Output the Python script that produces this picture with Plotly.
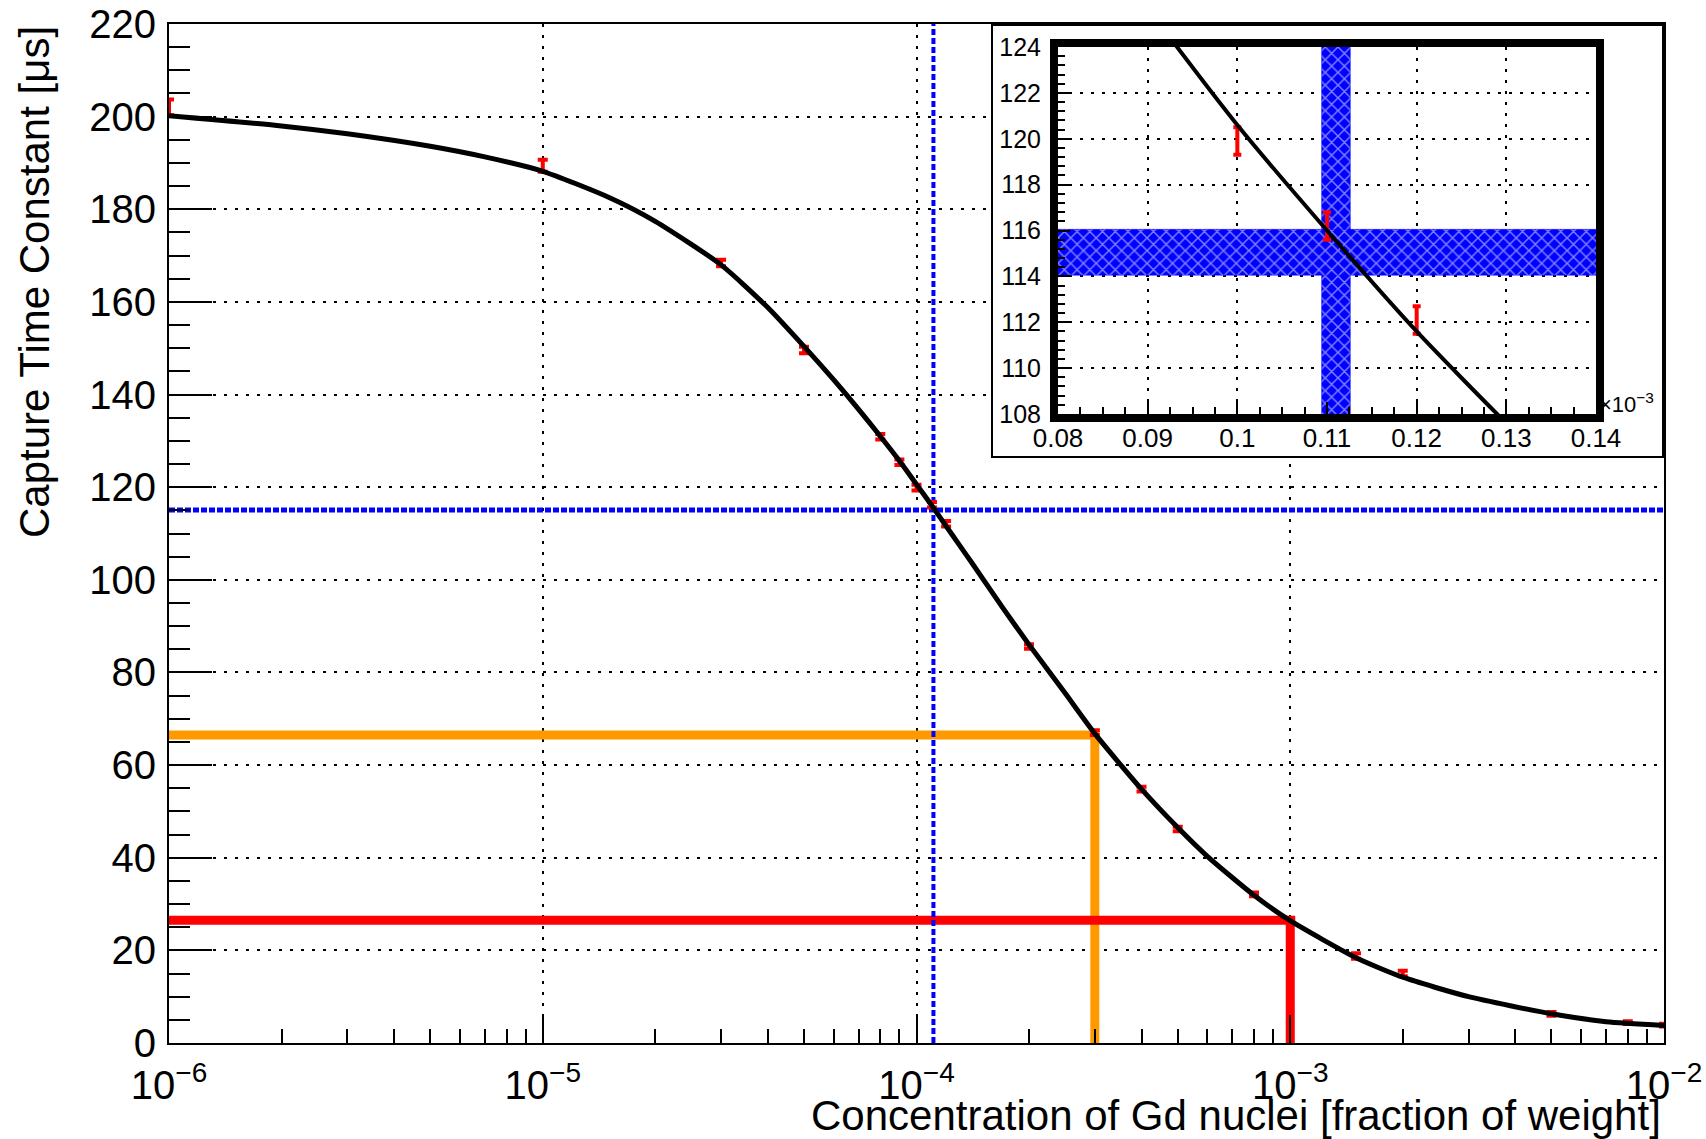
import plotly.graph_objects as go

# ---------------- data ----------------
conc = [1e-6, 1e-5, 3e-5, 5e-5, 8e-5, 9e-5, 1e-4, 1.1e-4, 1.2e-4, 2e-4, 3e-4, 4e-4,
        5e-4, 8e-4, 1e-3, 1.5e-3, 2e-3, 5e-3, 8e-3, 1e-2]
tau = [202.0, 189.4, 168.4, 149.6, 130.9, 125.4, 119.9, 116.2, 112.1, 85.6, 67.0, 54.8,
       46.2, 32.1, 26.6, 18.8, 15.0, 6.3, 4.4, 3.85]
tau_err = [1.7, 1.3, 0.7, 0.7, 0.6, 0.6, 0.6, 0.6, 0.6, 0.5, 0.5, 0.5,
           0.5, 0.4, 0.4, 0.6, 0.6, 0.4, 0.3, 0.3]

fit_conc = [1e-6, 2e-6, 3e-6, 5e-6, 7e-6, 1e-5, 1.5e-5, 2e-5, 3e-5, 4e-5, 5e-5, 6e-5,
            7e-5, 8e-5, 9e-5, 1e-4, 1.1e-4, 1.2e-4, 1.3e-4, 1.4e-4, 1.7e-4, 2e-4,
            2.5e-4, 3e-4, 4e-4, 5e-4, 6e-4, 8e-4, 1e-3, 1.5e-3, 2e-3, 3e-3, 5e-3,
            7e-3, 1e-2]
fit_tau = [200.2, 198.0, 196.3, 193.6, 191.3, 188.2, 182.6, 177.4, 168.0, 158.8, 150.4,
           143.2, 136.8, 131.0, 125.7, 120.6, 116.0, 111.6, 107.6, 103.9, 94.0, 86.0,
           75.5, 66.8, 54.8, 46.5, 40.3, 31.9, 26.4, 18.4, 14.2, 10.0, 6.3, 4.6, 3.8]

ref_conc, ref_conc_err = 1.11e-4, 0.016e-4     # blue band (vertical)
ref_tau, ref_tau_err = 115.05, 1.0              # blue band (horizontal)
orange_conc, orange_tau = 3e-4, 66.5
red_conc, red_tau = 1e-3, 26.5

x_lo, x_hi = 1e-6, 1e-2
y_lo, y_hi = 0, 220
x_ticks = [1e-6, 1e-5, 1e-4, 1e-3, 1e-2]
x_ticktext = ["10<sup>\u22126</sup>", "10<sup>\u22125</sup>", "10<sup>\u22124</sup>",
              "10<sup>\u22123</sup>", "10<sup>\u22122</sup>"]
y_ticks = list(range(0, 221, 20))

inset_scale = 1e3
inset_x_lo, inset_x_hi = 0.08, 0.14
inset_y_lo, inset_y_hi = 108, 124
inset_x_ticks = [0.08, 0.09, 0.10, 0.11, 0.12, 0.13, 0.14]
inset_x_text = ["0.08", "0.09", "0.1", "0.11", "0.12", "0.13", "0.14"]
inset_y_ticks = list(range(108, 125, 2))

# ---------------- geometry ----------------
W, H = 1706, 1139
L, R, T, B = 169, 1664, 24, 1043
pw, ph = R - L, B - T


def px(x):
    return (x - L) / pw


def py(y):
    return (B - y) / ph


FONT = "Liberation Sans, Arial, Helvetica, sans-serif"
fig = go.Figure()

# --- main plot ---
fig.add_trace(go.Scatter(x=[x_lo, orange_conc, orange_conc], y=[orange_tau, orange_tau, y_lo],
                         mode="lines", line=dict(color="#ff9900", width=9), xaxis="x", yaxis="y",
                         showlegend=False, hoverinfo="skip"))
fig.add_trace(go.Scatter(x=[x_lo, red_conc, red_conc], y=[red_tau, red_tau, y_lo],
                         mode="lines", line=dict(color="#ff0000", width=9), xaxis="x", yaxis="y",
                         showlegend=False, hoverinfo="skip"))
fig.add_trace(go.Scatter(x=[x_lo, x_hi], y=[ref_tau, ref_tau], mode="lines",
                         line=dict(color="#0000ff", width=5, dash="6px,2px"),
                         xaxis="x", yaxis="y", showlegend=False))
fig.add_trace(go.Scatter(x=[ref_conc, ref_conc], y=[y_lo, y_hi], mode="lines",
                         line=dict(color="#0000ff", width=4, dash="6px,3px"),
                         xaxis="x", yaxis="y", showlegend=False))
fig.add_trace(go.Scatter(x=conc, y=tau, mode="markers",
                         marker=dict(color="#ff0000", size=3),
                         error_y=dict(type="data", array=tau_err, color="#ff0000",
                                      thickness=4, width=5),
                         xaxis="x", yaxis="y", showlegend=False))
fig.add_trace(go.Scatter(x=fit_conc, y=fit_tau, mode="lines",
                         line=dict(color="black", width=5, shape="spline", smoothing=0.6),
                         xaxis="x", yaxis="y", showlegend=False))

# --- white inset background (x2/y2) ---
fig.add_trace(go.Scatter(x=[0, 1, 1, 0, 0], y=[0, 0, 1, 1, 0], mode="lines", fill="toself",
                         fillcolor="white", line=dict(width=0, color="white"),
                         xaxis="x2", yaxis="y2", showlegend=False, hoverinfo="skip"))

# --- inset (x3/y3) ---
ix = [c * inset_scale for c in conc]
ifx = [c * inset_scale for c in fit_conc]
band_pattern = dict(shape="x", fgcolor="white", bgcolor="#0000ff", size=9, solidity=0.3)
vx0 = (ref_conc - ref_conc_err) * inset_scale
vx1 = (ref_conc + ref_conc_err) * inset_scale
fig.add_trace(go.Scatter(x=[vx0, vx1, vx1, vx0, vx0],
                         y=[inset_y_lo - 1, inset_y_lo - 1, inset_y_hi + 1, inset_y_hi + 1, inset_y_lo - 1],
                         mode="lines", fill="toself", fillpattern=band_pattern,
                         fillcolor="#0000ff", line=dict(color="#0000ff", width=0.5),
                         xaxis="x3", yaxis="y3", showlegend=False))
hy0, hy1 = ref_tau - ref_tau_err, ref_tau + ref_tau_err
fig.add_trace(go.Scatter(x=[inset_x_lo - 0.01, inset_x_hi + 0.01, inset_x_hi + 0.01, inset_x_lo - 0.01, inset_x_lo - 0.01],
                         y=[hy0, hy0, hy1, hy1, hy0],
                         mode="lines", fill="toself", fillpattern=band_pattern,
                         fillcolor="#0000ff", line=dict(color="#0000ff", width=0.5),
                         xaxis="x3", yaxis="y3", showlegend=False))
fig.add_trace(go.Scatter(x=ix, y=tau, mode="markers",
                         marker=dict(color="#ff0000", size=3),
                         error_y=dict(type="data", array=tau_err, color="#ff0000",
                                      thickness=4, width=4),
                         xaxis="x3", yaxis="y3", showlegend=False, cliponaxis=True))
fig.add_trace(go.Scatter(x=ifx, y=fit_tau, mode="lines",
                         line=dict(color="black", width=4, shape="spline", smoothing=0.6),
                         xaxis="x3", yaxis="y3", showlegend=False))

grid_dash = "3px,8px"
fig.update_layout(
    width=W, height=H,
    margin=dict(l=L, r=W - R, t=T, b=H - B, pad=0, autoexpand=False),
    paper_bgcolor="white", plot_bgcolor="white",
    font=dict(family=FONT, color="black"),
    showlegend=False,
    xaxis=dict(type="log", range=[-6, -2], domain=[0, 1], anchor="y", automargin=False,
               showline=True, linecolor="black", linewidth=2, mirror=True,
               ticks="inside", ticklen=28, tickwidth=2, tickcolor="black",
               tickvals=x_ticks, ticktext=x_ticktext, tickfont=dict(size=40),
               ticklabelstandoff=6,
               showgrid=True, gridcolor="black", gridwidth=2, griddash=grid_dash,
               minor=dict(dtick="D1", ticks="inside", ticklen=14, tickwidth=2,
                          tickcolor="black", showgrid=False),
               zeroline=False),
    yaxis=dict(range=[y_lo, y_hi], domain=[0, 1], anchor="x", automargin=False,
               showline=True, linecolor="black", linewidth=2, mirror=True,
               ticks="inside", ticklen=43, tickwidth=2, tickcolor="black",
               tickvals=y_ticks, tickfont=dict(size=40), ticklabelstandoff=3,
               showgrid=True, gridcolor="black", gridwidth=2, griddash=grid_dash,
               minor=dict(dtick=5, tick0=0, ticks="inside", ticklen=21, tickwidth=2,
                          tickcolor="black", showgrid=False),
               zeroline=False),
    xaxis2=dict(range=[0, 1], domain=[px(992), px(1663)], anchor="y2", visible=False,
                automargin=False),
    yaxis2=dict(range=[0, 1], domain=[py(457), py(25)], anchor="x2", visible=False,
                automargin=False),
    xaxis3=dict(range=[inset_x_lo, inset_x_hi], domain=[px(1058), px(1596)], anchor="y3",
                automargin=False,
                showline=True, linecolor="black", linewidth=8, mirror=True,
                ticks="inside", ticklen=12, tickwidth=2, tickcolor="black",
                tickvals=inset_x_ticks, ticktext=inset_x_text, tickfont=dict(size=26),
                ticklabelstandoff=-6,
                showgrid=True, gridcolor="black", gridwidth=2, griddash=grid_dash,
                minor=dict(dtick=0.0025, tick0=0.08, ticks="inside", ticklen=7, tickwidth=2,
                           tickcolor="black", showgrid=False),
                zeroline=False),
    yaxis3=dict(range=[inset_y_lo, inset_y_hi], domain=[py(414), py(47)], anchor="x3",
                automargin=False,
                showline=True, linecolor="black", linewidth=8, mirror=True,
                ticks="inside", ticklen=12, tickwidth=2, tickcolor="black",
                tickvals=inset_y_ticks, tickfont=dict(size=25), ticklabelstandoff=4,
                showgrid=True, gridcolor="black", gridwidth=2, griddash=grid_dash,
                minor=dict(dtick=0.4, tick0=108, ticks="inside", ticklen=7, tickwidth=2,
                           tickcolor="black", showgrid=False),
                zeroline=False),
    shapes=[dict(type="rect", xref="paper", yref="paper",
                 x0=px(992), x1=px(1663), y0=py(457), y1=py(25),
                 line=dict(color="black", width=2), fillcolor="rgba(0,0,0,0)", layer="above")],
    annotations=[
        dict(text="Capture Time Constant [\u03bcs]", xref="paper", yref="paper",
             x=px(34), y=1.0, xanchor="center", yanchor="top", textangle=-90,
             showarrow=False, font=dict(size=42)),
        dict(text="Concentration of Gd nuclei [fraction of weight]", xref="paper", yref="paper",
             x=px(1663), y=py(1115), xanchor="right", yanchor="middle",
             showarrow=False, font=dict(size=42)),
        dict(text="\u00d710<sup>\u22123</sup>", xref="paper", yref="paper",
             x=px(1597), y=py(403), xanchor="left", yanchor="middle",
             showarrow=False, font=dict(size=22)),
    ],
)

fig.write_html("out.html")
